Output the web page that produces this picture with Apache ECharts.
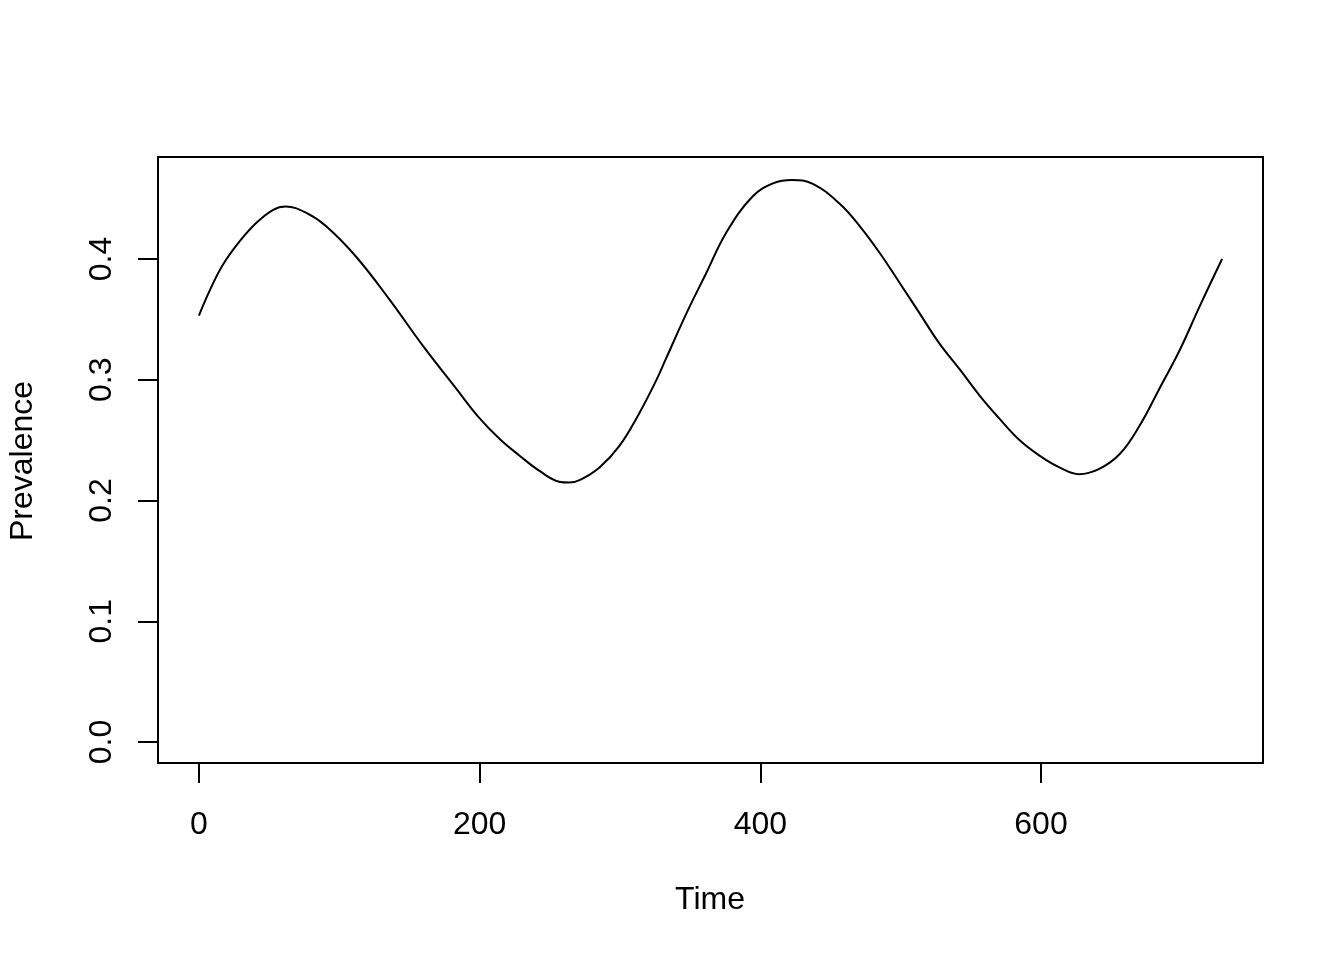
<!DOCTYPE html>
<html>
<head>
<meta charset="utf-8">
<script src="https://cdn.jsdelivr.net/npm/echarts@6/dist/echarts.min.js"></script>
<style>html,body{margin:0;padding:0;background:#fff}#c{width:1344px;height:960px}</style>
</head>
<body>
<div id="c"></div>
<script>
// Data
const times = [0, 8, 17, 29, 41, 53, 62, 77, 91, 112, 136, 160, 184, 200, 215, 229, 243, 257, 264, 272, 286, 300, 314, 326, 333, 348, 362, 376, 395, 410, 423, 438, 457, 472, 486, 500, 514, 528, 543, 557, 571, 585, 600, 614, 628, 642, 657, 671, 685, 700, 714, 730];
const prevalence = [0.353, 0.3745, 0.395, 0.4145, 0.430, 0.4408, 0.4435, 0.438, 0.4269, 0.402, 0.3662, 0.3275, 0.2916, 0.268, 0.250, 0.2364, 0.2239, 0.2150, 0.2143, 0.2165, 0.2270, 0.2447, 0.2715, 0.2985, 0.3165, 0.3552, 0.3883, 0.4214, 0.4518, 0.4629, 0.4656, 0.4623, 0.4460, 0.4265, 0.4045, 0.380, 0.3552, 0.3303, 0.3080, 0.2865, 0.2675, 0.2500, 0.2364, 0.2268, 0.2212, 0.2254, 0.2380, 0.2612, 0.2916, 0.3248, 0.3606, 0.3999];
const xTickMin = 0, xTickMax = 600, xTickStep = 200;
const yTickMin = 0, yTickMax = 0.4, yTickStep = 0.1;
const xLabel = 'Time';
const yLabel = 'Prevalence';

const FONT = '"Liberation Sans", Arial, Helvetica, sans-serif';
const xData = [0, 730];
const yData = [0, 0.466];
const xPad = (xData[1] - xData[0]) * 0.04;
const yPad = (yData[1] - yData[0]) * 0.04;

const chart = echarts.init(document.getElementById('c'), null, {renderer: 'canvas'});
const tickStyle = {show: true, inside: false, length: 20, lineStyle: {color: '#000', width: 2}};
chart.setOption({
  animation: false,
  backgroundColor: '#fff',
  grid: [
    {left: 158, right: 81, top: 157, bottom: 197, show: true, borderColor: '#000', borderWidth: 2, backgroundColor: 'transparent', containLabel: false},
    {left: 199, width: 842, top: 157, bottom: 197, containLabel: false},
    {left: 158, right: 81, top: 259, height: 483, containLabel: false}
  ],
  xAxis: [
    {gridIndex: 0, type: 'value', min: xData[0] - xPad, max: xData[1] + xPad, show: false},
    {gridIndex: 1, type: 'value', min: xTickMin, max: xTickMax, interval: xTickStep, position: 'bottom',
     axisLine: {show: false}, axisTick: tickStyle, splitLine: {show: false},
     axisLabel: {show: true, margin: 46, color: '#000', fontSize: 32, fontFamily: FONT}},
    {gridIndex: 2, type: 'value', show: false}
  ],
  yAxis: [
    {gridIndex: 0, type: 'value', min: yData[0] - yPad, max: yData[1] + yPad, show: false},
    {gridIndex: 1, type: 'value', show: false},
    {gridIndex: 2, type: 'value', min: yTickMin, max: yTickMax, interval: yTickStep, position: 'left',
     axisLine: {show: false}, axisTick: tickStyle, splitLine: {show: false},
     axisLabel: {show: true, rotate: 90, margin: 40, color: '#000', fontSize: 32, fontFamily: FONT,
       formatter: v => v.toFixed(1)}}
  ],
  graphic: [
    {type: 'text', x: 710, y: 900, style: {text: xLabel, x: 0, y: 0, align: 'center', verticalAlign: 'middle', fill: '#000', font: '32px ' + FONT}},
    {type: 'text', x: 23, y: 461, rotation: Math.PI / 2, style: {text: yLabel, x: 0, y: 0, align: 'center', verticalAlign: 'middle', fill: '#000', font: '32px ' + FONT}}
  ],
  series: [{
    type: 'line', xAxisIndex: 0, yAxisIndex: 0,
    data: times.map((t, i) => [t, prevalence[i]]),
    showSymbol: false, smooth: 0.4,
    lineStyle: {color: '#000', width: 2}
  }]
});
</script>
</body>
</html>
